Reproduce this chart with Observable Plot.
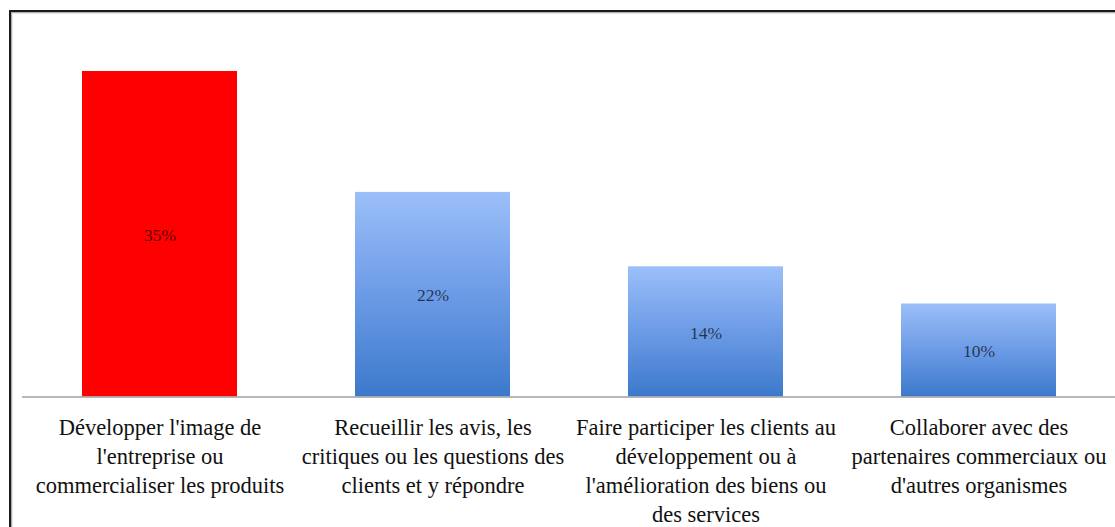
<!DOCTYPE html>
<html>
<head>
<meta charset="utf-8">
<script src="https://cdn.jsdelivr.net/npm/d3@7"></script>
<script src="https://cdn.jsdelivr.net/npm/@observablehq/plot@0.6"></script>
<style>
  html, body { margin: 0; padding: 0; background: #fff; overflow: hidden; }
  #wrap { position: relative; width: 1115px; height: 527px; }
  #frame { position: absolute; left: 9px; top: 10px; width: 1200px; height: 600px;
           border: 2px solid #1a1a1a; box-shadow: inset 1px 1px 0 0 #b0b0b0, inset 2px 2px 0 0 #e6e6e6; }
  #chart { position: absolute; left: 0; top: 0; }
</style>
</head>
<body>
<div id="wrap"><div id="frame"></div><div id="chart"></div></div>
<script>
const categories = [
  "Développer l'image de\nl'entreprise ou\ncommercialiser les produits",
  "Recueillir les avis, les\ncritiques ou les questions des\nclients et y répondre",
  "Faire participer les clients au\ndéveloppement ou à\nl'amélioration des biens ou\ndes services",
  "Collaborer avec des\npartenaires commerciaux ou\nd'autres organismes"
];
const values = [35, 22, 14, 10];
const valueLabels = ["35%", "22%", "14%", "10%"];
const highlight = [true, false, false, false];

const data = categories.map((c, i) => ({category: c, value: values[i], label: valueLabels[i], hi: highlight[i]}));

const plot = Plot.plot({
  width: 1115,
  height: 527,
  marginLeft: 22,
  marginRight: -1,
  marginTop: 24.5,
  marginBottom: 130.5,
  style: {background: "transparent", overflow: "visible"},
  x: {domain: categories, paddingInner: 0.433, paddingOuter: 0.2165, label: null},
  y: {domain: [0, 40], axis: null},
  marks: [
    Plot.barY(data, {x: "category", y: "value", fill: d => d.hi ? "#ff0000" : "url(#blueGrad)"}),
    Plot.ruleY([0], {stroke: "#a0a0a0", strokeWidth: 1.5}),
    Plot.text(data, {x: "category", y: d => d.value / 2, text: "label", fill: "#000", fillOpacity: 0.68,
      fontSize: 17.5, fontFamily: "Liberation Serif, serif", dy: 1}),
    Plot.axisX({tickSize: 0, tickPadding: 17, fontSize: 22.5, lineHeight: 1.29,
      fontFamily: "Liberation Serif, serif", fill: "#111", label: null})
  ]
});

const svg = d3.select(plot);
const defs = svg.insert("defs", ":first-child");
const g = defs.append("linearGradient").attr("id", "blueGrad")
  .attr("x1", 0).attr("y1", 0).attr("x2", 0).attr("y2", 1);
g.append("stop").attr("offset", "0%").attr("stop-color", "#9bbff9");
g.append("stop").attr("offset", "50%").attr("stop-color", "#6c9be6");
g.append("stop").attr("offset", "100%").attr("stop-color", "#3c79cb");

document.getElementById("chart").appendChild(plot);
</script>
</body>
</html>
